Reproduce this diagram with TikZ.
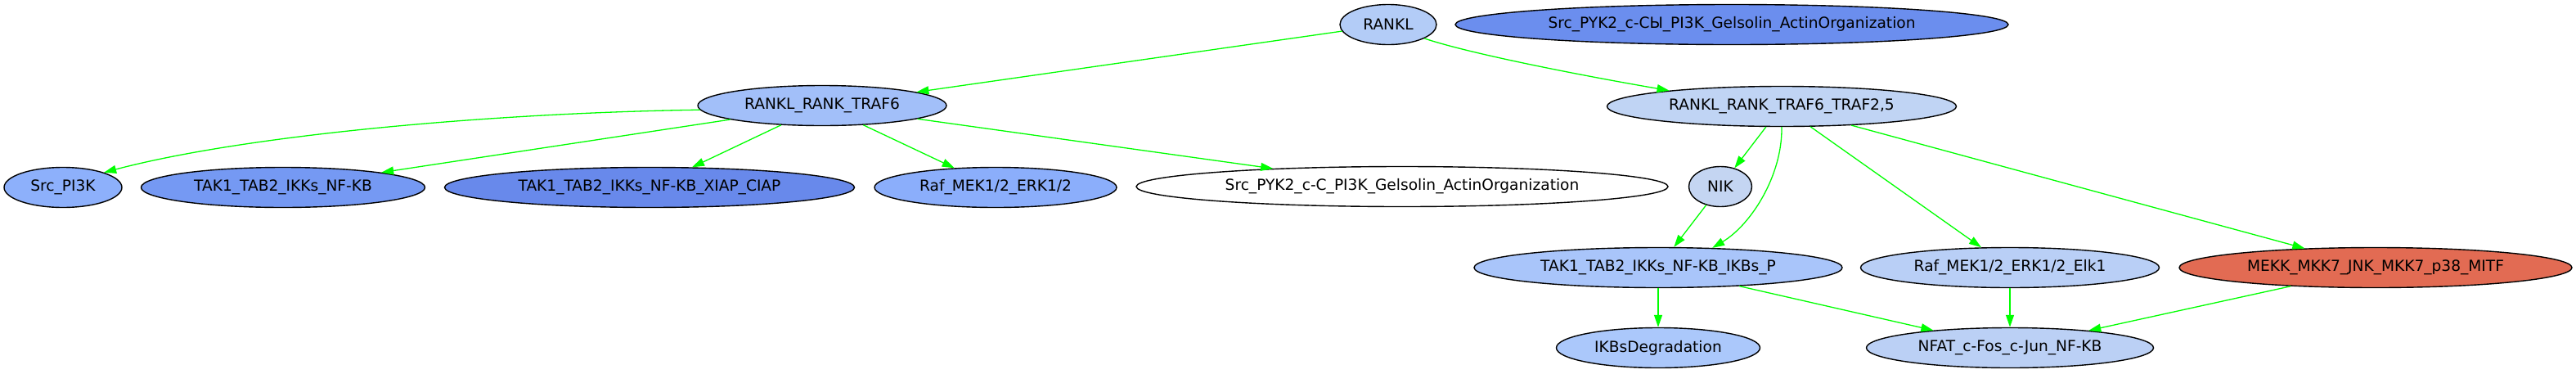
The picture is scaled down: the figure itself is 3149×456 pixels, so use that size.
\documentclass[tikz,border=0pt]{standalone}
\usepackage{fontspec}
\setmainfont{DejaVu Sans}
\usetikzlibrary{shapes.geometric,arrows.meta}
\definecolor{cRankl}{HTML}{B3CCF7}
\definecolor{cPykD}{HTML}{6B8EEE}
\definecolor{cTraf6}{HTML}{A2BFF9}
\definecolor{cTraf25}{HTML}{C0D4F4}
\definecolor{cSrcPi}{HTML}{8DB0FB}
\definecolor{cTakNf}{HTML}{7599F3}
\definecolor{cXiap}{HTML}{6889EB}
\definecolor{cRafMek}{HTML}{8BAEFB}
\definecolor{cNik}{HTML}{C4D5F2}
\definecolor{cTakIk}{HTML}{A9C5FA}
\definecolor{cRafElk}{HTML}{B9CFF6}
\definecolor{cMekk}{HTML}{E26B53}
\definecolor{cIkDeg}{HTML}{ABC8FB}
\definecolor{cNfat}{HTML}{BBD0F5}
\definecolor{edgegreen}{HTML}{00FF00}
\tikzset{
  gnode/.style={ellipse, draw=black, line width=1.4pt, inner sep=0pt,
    minimum height=49pt, font=\fontsize{18.6pt}{22pt}\selectfont, text=black},
  gedge/.style={draw=edgegreen, line width=1.3pt,
    -{Triangle[length=15pt,width=10pt]}}
}
\begin{document}
\begin{tikzpicture}[x=1pt,y=-1pt]
\useasboundingbox (0,0) rectangle (3149,456);
% row 1
\node[gnode, fill=cRankl, minimum width=118pt] (rankl) at (1697,30) {RANKL};
\node[gnode, fill=cPykD, minimum width=676pt] (pykd) at (2117,30) {Src\_PYK2\_c-CЫ\_PI3K\_Gelsolin\_ActinOrganization};
% row 2
\node[gnode, fill=cTraf6, minimum width=304pt] (traf6) at (1005,129) {RANKL\_RANK\_TRAF6};
\node[gnode, fill=cTraf25, minimum width=427pt] (traf25) at (2178,130) {RANKL\_RANK\_TRAF6\_TRAF2,5};
% row 3
\node[gnode, fill=cSrcPi, minimum width=144pt] (srcpi) at (77,229) {Src\_PI3K};
\node[gnode, fill=cTakNf, minimum width=347pt] (taknf) at (346,229) {TAK1\_TAB2\_IKKs\_NF-KB};
\node[gnode, fill=cXiap, minimum width=501pt] (xiap) at (794,229) {TAK1\_TAB2\_IKKs\_NF-KB\_XIAP\_CIAP};
\node[gnode, fill=cRafMek, minimum width=296pt] (rafmek) at (1217,229) {Raf\_MEK1/2\_ERK1/2};
\node[gnode, fill=white, minimum width=650pt] (pykc) at (1714,228) {Src\_PYK2\_c-C\_PI3K\_Gelsolin\_ActinOrganization};
\node[gnode, fill=cNik, minimum width=77pt] (nik) at (2103,228) {NIK};
% row 4
\node[gnode, fill=cTakIk, minimum width=450pt] (takik) at (2027,327) {TAK1\_TAB2\_IKKs\_NF-KB\_IKBs\_P};
\node[gnode, fill=cRafElk, minimum width=365pt] (rafelk) at (2457,327) {Raf\_MEK1/2\_ERK1/2\_Elk1};
\node[gnode, fill=cMekk, minimum width=480pt] (mekk) at (2904,327) {MEKK\_MKK7\_JNK\_MKK7\_p38\_MITF};
% row 5
\node[gnode, fill=cIkDeg, minimum width=249pt] (ikdeg) at (2027,425) {IKBsDegradation};
\node[gnode, fill=cNfat, minimum width=351pt] (nfat) at (2457,425) {NFAT\_c-Fos\_c-Jun\_NF-KB};
% edges
\draw[gedge] (rankl) -- (traf6);
\draw[gedge] (rankl.-21) .. controls (1801,67) and (1949,95) .. (traf25.172);
\draw[gedge] (traf6.182) .. controls (600,138) and (300,165) .. (srcpi.20);
\draw[gedge] (traf6) -- (taknf);
\draw[gedge] (traf6) -- (xiap);
\draw[gedge] (traf6) -- (rafmek);
\draw[gedge] (traf6) -- (pykc);
\draw[gedge] (traf25) -- (nik);
\draw[gedge] (traf25.south) .. controls (2179,215) and (2140,275) .. (takik.20);
\draw[gedge] (traf25) -- (rafelk);
\draw[gedge] (traf25) -- (mekk);
\draw[gedge] (nik) -- (takik);
\draw[gedge] (takik) -- (ikdeg);
\draw[gedge] (takik) -- (nfat);
\draw[gedge] (rafelk) -- (nfat);
\draw[gedge] (mekk) -- (nfat);
\end{tikzpicture}
\end{document}
